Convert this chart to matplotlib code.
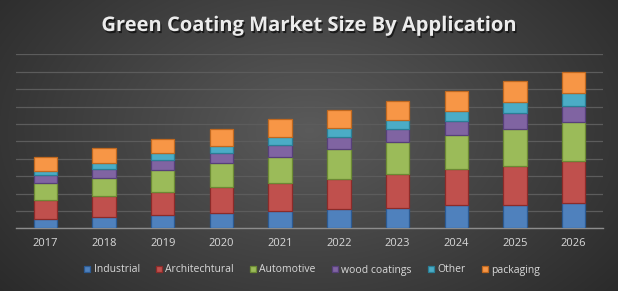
import numpy as np
import matplotlib
matplotlib.use("Agg")
import matplotlib.pyplot as plt
import matplotlib.patheffects as pe

# Data (in gridline units)
years = ["2017", "2018", "2019", "2020", "2021", "2022", "2023", "2024", "2025", "2026"]
industrial = [0.56, 0.67, 0.79, 0.90, 0.98, 1.09, 1.19, 1.32, 1.36, 1.48]
architectural = [1.09, 1.21, 1.32, 1.49, 1.65, 1.76, 1.95, 2.07, 2.24, 2.41]
automotive = [0.94, 1.03, 1.25, 1.34, 1.49, 1.69, 1.80, 1.95, 2.13, 2.24]
wood_coatings = [0.48, 0.52, 0.56, 0.61, 0.65, 0.69, 0.75, 0.80, 0.88, 0.92]
other = [0.23, 0.34, 0.40, 0.40, 0.50, 0.56, 0.56, 0.61, 0.67, 0.75]
packaging = [0.79, 0.82, 0.80, 0.94, 1.00, 1.02, 1.09, 1.13, 1.17, 1.17]

series = [
    ("Industrial", industrial, "#4F81BD", "#2c5a92"),
    ("Architechtural", architectural, "#C0504D", "#8c2b29"),
    ("Automotive", automotive, "#9BBB59", "#6c8a34"),
    ("wood coatings", wood_coatings, "#8064A2", "#57407a"),
    ("Other", other, "#4BACC6", "#2a7f96"),
    ("packaging", packaging, "#F79646", "#c0681f"),
]

fig = plt.figure(figsize=(6.18, 2.91), dpi=100)

# radial gradient background
bg = fig.add_axes([0, 0, 1, 1])
yy, xx = np.mgrid[0:291, 0:618]
r = np.sqrt(((xx - 309) / 400.0) ** 2 + ((yy - 130) / 260.0) ** 2)
r = np.clip(r, 0, 1)
c = 0.355 - (0.355 - 0.165) * r
bg.imshow(np.dstack([c, c, c]), aspect="auto", extent=[0, 1, 0, 1])
bg.set_axis_off()

ax = fig.add_axes([16 / 618, 1 - 228.3 / 291, 587 / 618, 174 / 291])
ax.patch.set_alpha(0)

x = np.arange(len(years))
bottom = np.zeros(len(years))
handles = []
for name, vals, col, edge in series:
    h = ax.bar(x, vals, 0.40, bottom=bottom, color=col, edgecolor=edge,
               linewidth=0.9, label=name, zorder=3)
    handles.append(h)
    bottom += np.array(vals)

ax.set_xlim(-0.5, len(years) - 0.5)
ax.set_ylim(0, 10)
ax.set_yticks(np.arange(0, 11, 1))
ax.yaxis.grid(True, color="#5c5c5c", linewidth=0.9, zorder=0)
ax.tick_params(axis="y", left=False, labelleft=False)
ax.set_xticks(x)
ax.set_xticklabels(years, color="#d9d9d9", fontsize=8, family="Open Sans")
ax.tick_params(axis="x", length=0, pad=7)
for s in ["top", "right", "left"]:
    ax.spines[s].set_visible(False)
ax.spines["bottom"].set_color("#8c8c8c")
ax.spines["bottom"].set_linewidth(1.0)

fig.text(0.5, 1 - 26 / 291, "Green Coating Market Size By Application",
         ha="center", va="center", color="#ececec", fontsize=14.5,
         fontweight="bold", family="Open Sans",
         path_effects=[pe.SimplePatchShadow(offset=(1, -1.5), shadow_rgbFace="black", alpha=0.6),
                       pe.Normal()])

leg = fig.legend(handles=handles, loc="center", bbox_to_anchor=(0.505, 1 - 270 / 291),
                 ncol=6, frameon=False, handlelength=0.6, handleheight=0.6,
                 handletextpad=0.3, columnspacing=1.55,
                 prop={"family": "Open Sans", "size": 7.5})
for t in leg.get_texts():
    t.set_color("#d9d9d9")

fig.savefig("out.png", dpi=100)
